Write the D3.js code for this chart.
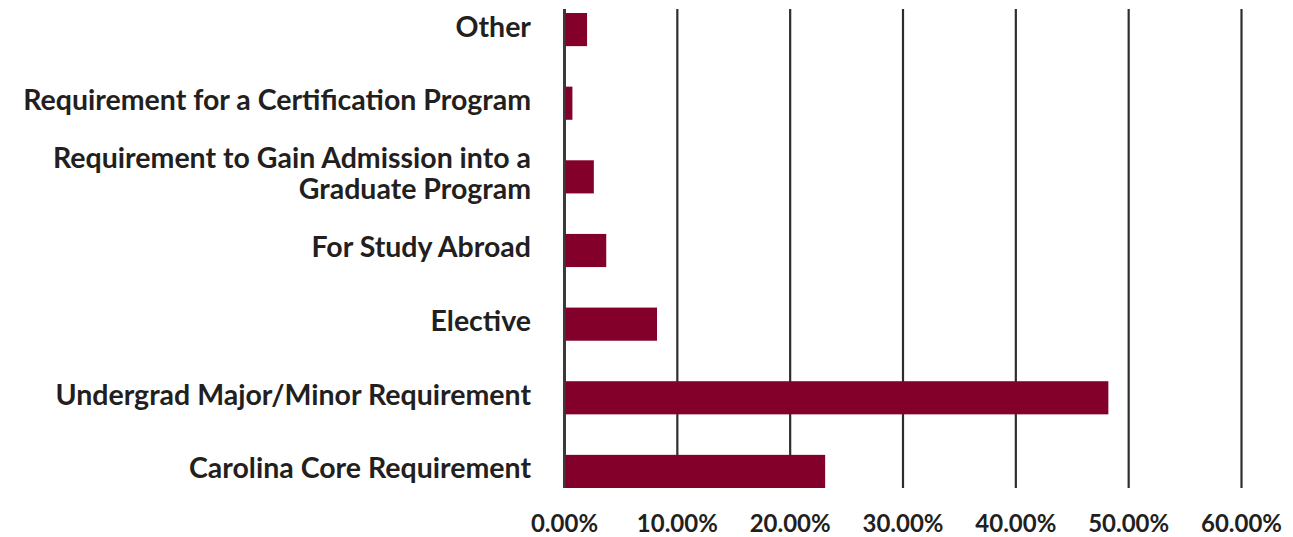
<!DOCTYPE html>
<html>
<head>
<meta charset="utf-8">
<script src="https://cdn.jsdelivr.net/npm/d3@7"></script>
<style>
  html, body { margin: 0; padding: 0; background: #ffffff; }
  svg { display: block; }
</style>
</head>
<body>
<svg id="chart" width="1293" height="537"></svg>
<script>
// ---- data (top to bottom) ----
const categories = [
  "Other",
  "Requirement for a Certification Program",
  "Requirement to Gain Admission into a Graduate Program",
  "For Study Abroad",
  "Elective",
  "Undergrad Major/Minor Requirement",
  "Carolina Core Requirement"
];
const values = [0.020, 0.007, 0.026, 0.037, 0.082, 0.482, 0.231];
const tickValues = [0, 0.1, 0.2, 0.3, 0.4, 0.5, 0.6];

// ---- layout ----
const W = 1293, H = 537;
const plotLeft = 564.5, plotRight = 1241.5;
const gridTop = 9, gridBottom = 488;
const barColor = "#83002a";
const textColor = "#231f20";
const gridColor = "#2e2e2e";

const svg = d3.select("#chart");

const x = d3.scaleLinear().domain([0, 0.6]).range([plotLeft, plotRight]);
const y = d3.scaleBand().domain(categories).range([13, gridBottom])
  .paddingInner(0.55).paddingOuter(0);

// gridlines
svg.append("g").selectAll("line")
  .data(tickValues)
  .join("line")
  .attr("x1", d => x(d)).attr("x2", d => x(d))
  .attr("y1", gridTop).attr("y2", gridBottom)
  .attr("stroke", (d, i) => i === 0 ? "#3a3a3a" : gridColor)
  .attr("stroke-width", (d, i) => i === 0 ? 3 : 2.2);

// bars
const data = categories.map((c, i) => ({ c, v: values[i] }));
svg.append("g").selectAll("rect")
  .data(data)
  .join("rect")
  .attr("x", x(0) + 1)
  .attr("y", d => y(d.c))
  .attr("width", d => x(d.v) - x(0) - 1)
  .attr("height", y.bandwidth())
  .attr("fill", barColor);

// category labels
const labelFont = "Lato, 'Open Sans', sans-serif";
const labelSize = 28.5;
const labelX = 531;
const maxLabelWidth = 530;
const lg = svg.append("g")
  .attr("font-family", labelFont)
  .attr("font-weight", 700)
  .attr("font-size", labelSize)
  .attr("fill", textColor)
  .attr("text-anchor", "end");

// measure helper
const measure = svg.append("text")
  .attr("font-family", labelFont).attr("font-weight", 700)
  .attr("font-size", labelSize).attr("visibility", "hidden");
function textWidth(s) { measure.text(s); return measure.node().getComputedTextLength(); }
function wrap(s) {
  const words = s.split(" ");
  const lines = [];
  let cur = "";
  words.forEach(w => {
    const t = cur ? cur + " " + w : w;
    if (cur && textWidth(t) > maxLabelWidth) { lines.push(cur); cur = w; }
    else cur = t;
  });
  lines.push(cur);
  return lines;
}

const lineHeight = 31;
categories.forEach(c => {
  const lines = wrap(c);
  const cy = y(c) + y.bandwidth() / 2;
  const t = lg.append("text").attr("x", labelX);
  lines.forEach((ln, i) => {
    t.append("tspan")
      .attr("x", labelX)
      .attr("y", cy + (i - (lines.length - 1) / 2) * lineHeight - 3)
      .attr("dy", "0.35em")
      .text(ln);
  });
});
measure.remove();

// x tick labels
svg.append("g")
  .attr("font-family", labelFont)
  .attr("font-weight", 700)
  .attr("font-size", 24)
  .attr("fill", textColor)
  .attr("text-anchor", "middle")
  .selectAll("text")
  .data(tickValues)
  .join("text")
  .attr("x", d => x(d))
  .attr("y", 532)
  .text(d => d3.format(".2%")(d));
</script>
</body>
</html>
